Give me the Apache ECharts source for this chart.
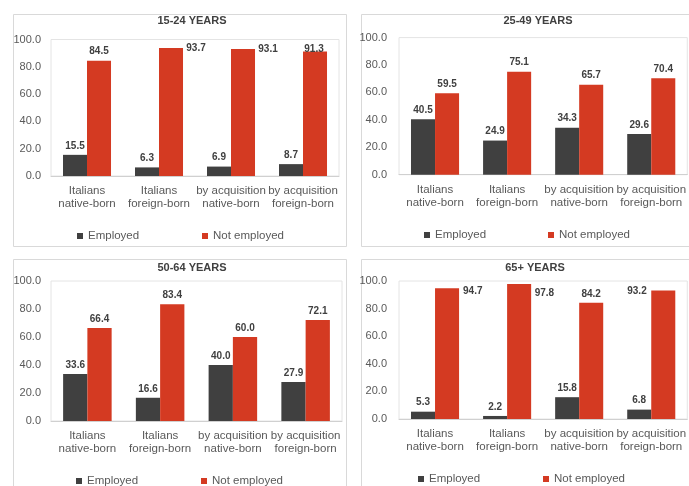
<!DOCTYPE html>
<html>
<head>
<meta charset="utf-8">
<title>Employment status by age group and citizenship</title>
<script src="https://cdn.jsdelivr.net/npm/echarts@6/dist/echarts.min.js"></script>
<style>
  html, body { margin: 0; padding: 0; background: #ffffff; }
  #chart { width: 689px; height: 486px; }
</style>
</head>
<body>
<div id="chart"></div>
<script>
// Categories shared by the four age panels
const categories = [
  'Italians\nnative-born',
  'Italians\nforeign-born',
  'by acquisition\nnative-born',
  'by acquisition\nforeign-born'
];
const seriesNames = ['Employed', 'Not employed'];
const panelTitles = ['15-24 YEARS', '25-49 YEARS', '50-64 YEARS', '65+ YEARS'];

// Shares (%) per age group
const employed1524 = [15.5, 6.3, 6.9, 8.7];
const notEmployed1524 = [84.5, 93.7, 93.1, 91.3];
const employed2549 = [40.5, 24.9, 34.3, 29.6];
const notEmployed2549 = [59.5, 75.1, 65.7, 70.4];
const employed5064 = [33.6, 16.6, 40.0, 27.9];
const notEmployed5064 = [66.4, 83.4, 60.0, 72.1];
const employed65 = [5.3, 2.2, 15.8, 6.8];
const notEmployed65 = [94.7, 97.8, 84.2, 93.2];

// Value axis ticks
const yMin = 0, yMax = 100, yStep = 20;

const panelData = [
  [employed1524, notEmployed1524],
  [employed2549, notEmployed2549],
  [employed5064, notEmployed5064],
  [employed65, notEmployed65]
];

// Layout of each panel: frame, plot area, title and legend anchors
const panels = [
  { frame: [11, 12], grid: { left: 51, right: 350, top: 39.5, bottom: 310 }, titleX: 192, titleY: 15,
    legend: [[77, 230], [202, 230]], yLabelMargin: 10 },
  { frame: [359, 12], grid: { left: 399, right: 1, top: 37.6, bottom: 311.3 }, titleX: 538, titleY: 15,
    legend: [[424, 229], [548, 229]], yLabelMargin: 12 },
  { frame: [11, 257], grid: { left: 51, right: 347, top: 281, bottom: 65 }, titleX: 192, titleY: 262,
    legend: [[76, 475], [201, 475]], yLabelMargin: 10 },
  { frame: [359, 257], grid: { left: 399, right: 1, top: 281, bottom: 67 }, titleX: 535, titleY: 262,
    legend: [[418, 473], [543, 473]], yLabelMargin: 12 }
];

// Hand-placed "Not employed" labels (pixel nudges from the default top position)
const notEmployedLabelNudge = [
  [null, [25, 9], [25, 9.3], [-1, 7]],
  [null, null, null, null],
  [null, null, null, null],
  [[25.7, 12.3], [25.3, 18], null, [-26.3, 9.6]]
];

const colors = ['#404040', '#d43a22'];
const textGray = '#595959';
const fontFamily = '"Liberation Sans", Arial, sans-serif';

const grid = [], xAxis = [], yAxis = [], series = [], title = [], legend = [], frames = [];

panels.forEach((p, i) => {
  grid.push(Object.assign({ show: true, borderColor: '#e4e4e4', borderWidth: 1, backgroundColor: 'transparent' }, p.grid));

  xAxis.push({
    type: 'category',
    gridIndex: i,
    data: categories,
    axisLine: { lineStyle: { color: '#d0d0d0' } },
    axisTick: { show: false },
    axisLabel: { color: textGray, fontSize: 11.5, fontFamily, lineHeight: 12.5, margin: 9, interval: 0 }
  });

  yAxis.push({
    type: 'value',
    gridIndex: i,
    min: yMin, max: yMax, interval: yStep,
    splitLine: { show: false },
    axisLine: { show: false },
    axisTick: { show: false },
    axisLabel: { color: textGray, fontSize: 11, fontFamily, margin: p.yLabelMargin,
      formatter: v => v.toFixed(1) }
  });

  panelData[i].forEach((values, s) => {
    series.push({
      type: 'bar',
      name: seriesNames[s],
      xAxisIndex: i,
      yAxisIndex: i,
      barGap: '0%',
      barCategoryGap: '33.3%',
      itemStyle: { color: colors[s] },
      label: {
        show: true,
        position: 'top',
        distance: 4,
        color: '#404040',
        fontSize: 10,
        fontWeight: 'bold',
        fontFamily,
        formatter: prm => prm.value.toFixed(1)
      },
      data: values.map((v, k) => {
        const nudge = s === 1 ? notEmployedLabelNudge[i][k] : null;
        return nudge ? { value: v, label: { offset: nudge } } : v;
      })
    });
  });

  title.push({
    text: panelTitles[i],
    left: p.titleX,
    top: p.titleY,
    textAlign: 'center',
    padding: 0,
    textStyle: { color: '#404040', fontSize: 11, fontWeight: 'bold', fontFamily }
  });

  seriesNames.forEach((name, s) => {
    legend.push({
      data: [name],
      left: p.legend[s][0],
      top: p.legend[s][1],
      padding: 0,
      icon: 'rect',
      itemWidth: 6,
      itemHeight: 6,
      selectedMode: false,
      textStyle: { color: textGray, fontSize: 11.5, fontFamily }
    });
  });

  frames.push({
    type: 'rect',
    left: p.frame[0],
    top: p.frame[1],
    shape: { width: 333, height: 232 },
    style: { fill: 'none', stroke: '#d9d9d9', lineWidth: 1 },
    silent: true
  });
});

const chart = echarts.init(document.getElementById('chart'), null, { renderer: 'canvas' });
chart.setOption({
  backgroundColor: '#ffffff',
  animation: false,
  title, legend, grid, xAxis, yAxis, series,
  graphic: frames
});
</script>
</body>
</html>
